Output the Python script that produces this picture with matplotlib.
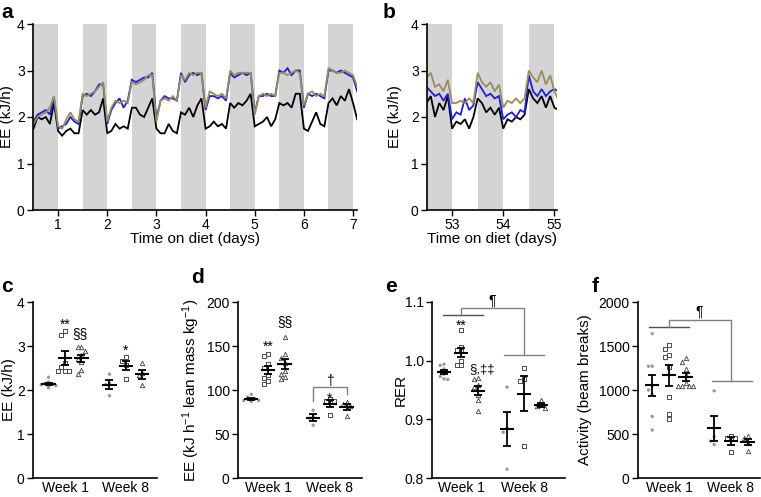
import numpy as np
import matplotlib
matplotlib.use('Agg')
import matplotlib.pyplot as plt

plt.rcParams['font.family'] = ['Liberation Sans', 'DejaVu Sans']
plt.rcParams['mathtext.fontset'] = 'custom'
plt.rcParams['mathtext.rm'] = 'Liberation Sans'
plt.rcParams['mathtext.it'] = 'Liberation Sans:italic'
plt.rcParams['mathtext.bf'] = 'Liberation Sans:bold'
plt.rcParams['axes.linewidth'] = 1.2

W, H = 761, 497

# ---------------- data ----------------
# panel a: energy expenditure (kJ/h), 2-hourly from day 0.5
a_t0, a_dt = 0.5, 1 / 12
a_ctrl = [1.75, 2.0, 1.95, 2.0, 1.85, 2.3,
          1.7, 1.6, 1.7, 1.75, 1.65, 1.65,
          2.15, 2.05, 2.15, 2.05, 2.1, 2.4,
          1.65, 1.7, 1.85, 1.75, 1.8, 1.75,
          2.2, 2.2, 2.05, 2.0, 2.2, 2.4,
          1.75, 1.65, 1.65, 1.85, 1.7, 1.65,
          2.1, 2.05, 2.2, 2.0, 2.25, 2.4,
          1.75, 1.8, 1.9, 1.8, 1.85, 1.75,
          2.3, 2.2, 2.3, 2.25, 2.35, 2.5,
          1.8, 1.85, 1.9, 2.0, 1.8, 1.95,
          2.3, 2.25, 2.3, 2.2, 2.5, 2.5,
          1.75, 1.7, 1.9, 2.1, 1.85, 1.8,
          2.3, 2.4, 2.25, 2.45, 2.35, 2.6,
          2.3, 1.95]
a_blue = [1.9, 2.05, 2.1, 2.15, 2.05, 2.4,
          1.75, 1.8, 1.85, 2.0, 1.9, 1.85,
          2.45, 2.5, 2.45, 2.55, 2.7, 2.7,
          1.85, 2.15, 2.3, 2.4, 2.2, 2.35,
          2.8, 2.75, 2.8, 2.85, 2.85, 2.95,
          1.95, 2.35, 2.45, 2.4, 2.4, 2.35,
          2.95, 2.75, 2.9, 2.95, 2.9, 2.95,
          2.15, 2.45, 2.45, 2.4, 2.45, 2.35,
          2.95, 2.85, 2.9, 2.95, 2.9, 2.95,
          2.1, 2.45, 2.45, 2.5, 2.45, 2.45,
          3.0, 2.95, 3.05, 2.9, 3.0, 3.0,
          2.2, 2.5, 2.45, 2.5, 2.45, 2.4,
          3.0, 3.0, 2.95, 3.0, 2.95, 2.9,
          2.85, 2.55]
a_tan = [1.85, 2.0, 2.05, 2.1, 2.2, 2.45,
         1.8, 1.75, 1.95, 2.1, 1.95, 1.9,
         2.5, 2.45, 2.5, 2.55, 2.65, 2.75,
         1.9, 2.2, 2.35, 2.3, 2.35, 2.3,
         2.75, 2.7, 2.75, 2.8, 2.9, 2.9,
         1.9, 2.35, 2.4, 2.35, 2.45, 2.35,
         2.9, 2.8, 2.95, 2.9, 2.95, 2.95,
         2.2, 2.55, 2.5, 2.45, 2.5, 2.4,
         3.0, 2.9, 2.95, 2.95, 2.95, 2.95,
         2.05, 2.45, 2.5, 2.45, 2.5, 2.45,
         2.95, 2.95, 2.9, 2.95, 3.0, 2.95,
         2.25, 2.5, 2.55, 2.45, 2.5, 2.45,
         3.05, 3.0, 2.95, 2.95, 3.0, 2.95,
         2.9, 2.65]
a_dark_starts = [0.5, 1.5, 2.5, 3.5, 4.5, 5.5, 6.5]
a_xticks = [1, 2, 3, 4, 5, 6, 7]

# panel b: energy expenditure (kJ/h), 2-hourly from day 52.5
b_t0, b_dt = 52.5, 1 / 12
b_ctrl = [2.3, 2.45, 2.0, 2.3, 2.15, 2.45,
          1.75, 1.9, 1.85, 1.95, 1.75, 2.0,
          2.4, 2.3, 2.1, 2.2, 2.05, 2.2,
          1.75, 1.95, 1.9, 2.0, 1.95, 2.05,
          2.6, 2.4, 2.3, 2.45, 2.2, 2.45,
          2.2, 2.15]
b_blue = [2.65, 2.55, 2.45, 2.5, 2.35, 2.5,
          1.95, 2.1, 2.05, 2.4, 2.15, 2.25,
          2.75, 2.6, 2.45, 2.5, 2.4, 2.45,
          1.95, 2.05, 2.1, 2.0, 2.15, 2.1,
          2.9, 2.55, 2.45, 2.6, 2.45, 2.55,
          2.6, 2.55]
b_tan = [2.85, 2.95, 2.65, 2.7, 2.55, 2.8,
         2.3, 2.3, 2.35, 2.3, 2.4, 2.3,
         2.95, 2.75, 2.65, 2.75, 2.55, 2.7,
         2.2, 2.35, 2.3, 2.4, 2.3, 2.4,
         3.0, 2.85, 2.75, 3.0, 2.7, 2.9,
         2.55, 2.35]
b_dark_starts = [52.5, 53.5, 54.5]
b_xticks = [53, 54, 55]

week_labels = ['Week 1', 'Week 8']

# panel c: EE (kJ/h)   [ctrl, squares, triangles] per week
c_w1 = [[2.29, 2.18, 2.15, 2.13, 2.12, 2.10, 2.08, 2.05],
        [3.35, 3.26, 2.62, 2.53, 2.44, 2.44, 2.44],
        [2.97, 2.97, 2.88, 2.80, 2.70, 2.64, 2.46, 2.37]]
c_w8 = [[2.36, 2.15, 2.12, 1.87],
        [2.74, 2.65, 2.57, 2.26],
        [2.61, 2.39, 2.33, 2.11]]
# panel d: EE per lean mass
d_w1 = [[95, 92, 90, 89, 88, 88, 87, 88],
        [141, 139, 130, 125, 117, 114, 110, 107],
        [160, 141, 136, 131, 122, 118, 115, 112]]
d_w8 = [[77, 70, 68, 60],
        [90, 88, 87, 72],
        [86, 84, 82, 70]]
# panel e: RER
e_w1 = [[0.994, 0.992, 0.986, 0.981, 0.977, 0.973, 0.969, 0.968],
        [1.053, 1.024, 1.019, 1.016, 1.000, 0.993, 0.992],
        [0.970, 0.968, 0.959, 0.955, 0.942, 0.933, 0.915]]
e_w8 = [[0.955, 0.885, 0.878, 0.815],
        [0.988, 0.968, 0.965, 0.854],
        [0.933, 0.925, 0.922, 0.919]]
# panel f: activity (beam breaks)
f_w1 = [[1640, 1270, 1270, 1050, 1000, 950, 700, 545],
        [1510, 1470, 1400, 1380, 1260, 920, 730, 670],
        [1360, 1320, 1240, 1170, 1080, 1050, 1040, 1040, 1045]]
f_w8 = [[990, 470, 420, 380],
        [475, 460, 450, 300],
        [480, 455, 395, 310]]

LINE_COLORS = ['black', '#1f1fd6', '#9b8c5c']
BAND = '#d4d4d4'

fig = plt.figure(figsize=(W / 100, H / 100), dpi=100)


def px_axes(l, t, r, b):
    return fig.add_axes([l / W, 1 - b / H, (r - l) / W, (b - t) / H])


def style_axes(ax):
    for s in ['top', 'right']:
        ax.spines[s].set_visible(False)
    ax.tick_params(direction='out', length=4, width=1.0, labelsize=10, pad=2)


def ts_panel(ax, t0, dt, series, darks, xlim, xticks):
    for d in darks:
        ax.axvspan(d, d + 0.5, color=BAND, lw=0, zorder=0)
    for vals, col in zip(series, LINE_COLORS):
        t = t0 + dt * np.arange(len(vals))
        ax.plot(t, vals, color=col, lw=1.3, zorder=2, solid_joinstyle='miter')
    ax.set_xlim(xlim)
    ax.set_ylim(0, 4)
    ax.set_yticks([0, 1, 2, 3, 4])
    ax.set_xticks(xticks)
    style_axes(ax)
    ax.set_xlabel('Time on diet (days)', fontsize=11)
    ax.set_ylabel('EE (kJ/h)', fontsize=11)


def swarm(vals, yrange, dx=0.06, ythr=0.026):
    vals = np.asarray(vals, float)
    res = np.zeros(len(vals))
    placed = []
    for i in np.argsort(-vals):
        v = vals[i]
        chosen = 0
        for cand in [0, -dx, dx, -2 * dx, 2 * dx]:
            if all(not (abs(cand - o) < dx * 0.9 and abs(v - pv) < ythr * yrange)
                   for o, pv in placed):
                chosen = cand
                break
        res[i] = chosen
        placed.append((chosen, v))
    return res


MSTYLE = [dict(marker='o', s=6, facecolors='#9a9a9a', edgecolors='none'),
          dict(marker='s', s=9, facecolors='white', edgecolors='#303030', linewidths=0.6),
          dict(marker='^', s=10, facecolors='white', edgecolors='#404040', linewidths=0.6)]
OFFS = [-0.27, 0.0, 0.27]


def dot_panel(ax, w1, w8, ylim, yticks, ylabel, xlim, yfmt=None):
    yr = ylim[1] - ylim[0]
    for center, groups in zip([1, 2], [w1, w8]):
        for k, vals in enumerate(groups):
            x0 = center + OFFS[k]
            jit = swarm(vals, yr)
            ax.scatter(x0 + jit, vals, zorder=2, clip_on=False, **MSTYLE[k])
            m = np.mean(vals)
            se = np.std(vals, ddof=1) / np.sqrt(len(vals))
            ax.errorbar([x0], [m], yerr=[se], fmt='none', ecolor='black',
                        elinewidth=1.3, capsize=2.6, capthick=1.3, zorder=3)
            ax.plot([x0 - 0.1, x0 + 0.1], [m, m], color='black', lw=1.5, zorder=3)
    ax.set_xlim(xlim)
    ax.set_ylim(ylim)
    ax.set_yticks(yticks)
    if yfmt:
        ax.set_yticklabels([yfmt.format(v) for v in yticks])
    ax.set_xticks([1, 2])
    ax.set_xticklabels(week_labels)
    style_axes(ax)
    ax.tick_params(axis='x', length=0, pad=2)
    ax.set_ylabel(ylabel, fontsize=11)


def note(ax, x, y, s, size=10):
    ax.text(x, y, s, ha='center', va='baseline', fontsize=size, clip_on=False)


# ---- panel a
ax_a = px_axes(33, 24, 357, 210)
ts_panel(ax_a, a_t0, a_dt, [a_ctrl, a_blue, a_tan], a_dark_starts, (0.49, 7.08), a_xticks)
ax_a.yaxis.set_label_coords(-0.058, 0.5)
ax_a.xaxis.set_label_coords(0.5, -0.12)

# ---- panel b
ax_b = px_axes(427, 24, 557, 210)
ts_panel(ax_b, b_t0, b_dt, [b_ctrl, b_blue, b_tan], b_dark_starts, (52.51, 55.05), b_xticks)
ax_b.yaxis.set_label_coords(-0.19, 0.5)
ax_b.xaxis.set_label_coords(0.5, -0.12)

BOT, TOP = 478, 302

# ---- panel c
ax_c = px_axes(33, TOP, 157, BOT)
dot_panel(ax_c, c_w1, c_w8, (0, 4), [0, 1, 2, 3, 4], 'EE (kJ/h)', (0.475, 2.51))
ax_c.yaxis.set_label_coords(-0.135, 0.5)
note(ax_c, 1.0, 3.39, '**')
note(ax_c, 1.25, 3.17, '§§')
note(ax_c, 2.0, 2.81, '*')

# ---- panel d
ax_d = px_axes(238, TOP, 362, BOT)
dot_panel(ax_d, d_w1, d_w8, (0, 200), [0, 50, 100, 150, 200],
          r'EE (kJ h$^{-1}$ lean mass kg$^{-1}$)', (0.516, 2.52))
ax_d.yaxis.set_label_coords(-0.29, 0.5)
note(ax_d, 1.0, 145, '**')
note(ax_d, 1.28, 173, '§§')
note(ax_d, 2.0, 86, '*')
ax_d.plot([1.73, 1.73, 2.27, 2.27], [87, 103, 103, 95], color='#808080', lw=1.0, zorder=1)
note(ax_d, 2.0, 106, '†')

# ---- panel e
ax_e = px_axes(432, TOP, 565, BOT)
dot_panel(ax_e, e_w1, e_w8, (0.8, 1.1), [0.8, 0.9, 1.0, 1.1], 'RER', (0.54, 2.65), yfmt='{:.1f}')
ax_e.yaxis.set_label_coords(-0.18, 0.5)
note(ax_e, 1.0, 1.052, '**')
note(ax_e, 1.33, 0.981, '§,‡‡', size=9.5)
ax_e.plot([0.714, 1.35], [1.078, 1.078], color='#505050', lw=1.0, clip_on=False)
ax_e.plot([1.0, 1.0, 2.0, 2.0], [1.078, 1.0898, 1.0898, 1.01], color='#808080', lw=1.0, clip_on=False)
ax_e.plot([1.68, 2.32], [1.01, 1.01], color='#808080', lw=1.0, clip_on=False)
note(ax_e, 1.49, 1.0956, '¶')

# ---- panel f
ax_f = px_axes(638, TOP, 760, BOT)
dot_panel(ax_f, f_w1, f_w8, (0, 2000), [0, 500, 1000, 1500, 2000],
          'Activity (beam breaks)', (0.5, 2.47))
ax_f.yaxis.set_label_coords(-0.377, 0.5)
ax_f.plot([0.68, 1.32], [1721, 1721], color='#505050', lw=1.0, clip_on=False)
ax_f.plot([1.0, 1.0, 2.0, 2.0], [1721, 1800, 1800, 1104], color='#808080', lw=1.0, clip_on=False)
ax_f.plot([1.69, 2.34], [1104, 1104], color='#808080', lw=1.0, clip_on=False)
note(ax_f, 1.495, 1846, '¶')

# ---- panel letters
for lx, lb, s in [(1, 18, 'a'), (383, 18, 'b'), (1, 292, 'c'), (191, 283, 'd'),
                  (385, 292, 'e'), (592, 292, 'f')]:
    fig.text(lx / W, 1 - lb / H, s, fontsize=15, fontweight='bold', ha='left', va='baseline')

fig.savefig('out.png', dpi=100)
